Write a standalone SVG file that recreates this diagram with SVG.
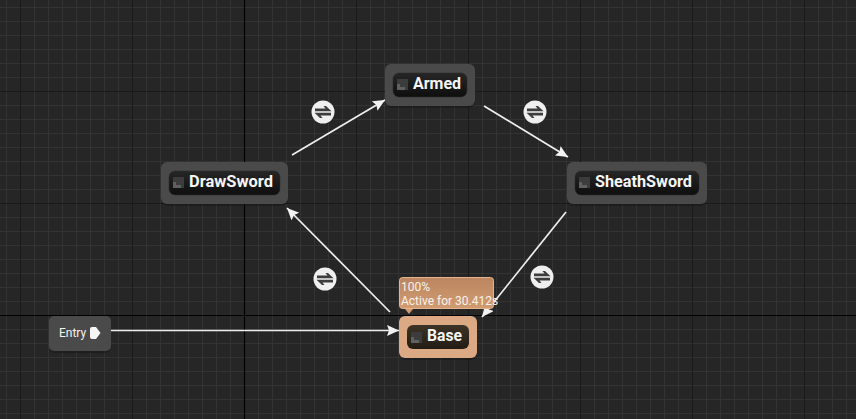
<svg xmlns="http://www.w3.org/2000/svg" width="856" height="419" viewBox="0 0 856 419">
<defs>
<pattern id="minor" width="14" height="14" patternUnits="userSpaceOnUse" x="6" y="7"><path d="M0.5 0V14M0 0.5H14" stroke="#333333" stroke-width="1" fill="none"/></pattern>
<pattern id="major" width="112" height="112" patternUnits="userSpaceOnUse" x="20" y="91"><path d="M0.5 0V112M0 0.5H112" stroke="#1a1a1a" stroke-width="1" fill="none"/></pattern>
<linearGradient id="pill" x1="0" y1="0" x2="0" y2="1"><stop offset="0" stop-color="#262626"/><stop offset="1" stop-color="#0e0e0e"/></linearGradient>
<linearGradient id="pillB" x1="0" y1="0" x2="0" y2="1"><stop offset="0" stop-color="#3d3427"/><stop offset="1" stop-color="#221c14"/></linearGradient>
<linearGradient id="tip" x1="0" y1="0" x2="0" y2="1"><stop offset="0" stop-color="#bb8660"/><stop offset="1" stop-color="#d19b72"/></linearGradient>
<marker id="ah" markerUnits="userSpaceOnUse" markerWidth="14" markerHeight="12" refX="12" refY="5.500" orient="auto"><path d="M0 0L12 5.500L0 11L2 5.500Z" fill="#f2f2f2"/></marker>
<g id="icon"><circle r="11.500" fill="#efefef"/><path d="M-8 -0.800H8.500L3 -6H0.500L2.500 -3.500H-8Z" fill="#3d3d3d"/><path d="M8 0.800H-8.500L-3 6H-0.500L-2.500 3.500H8Z" fill="#3d3d3d"/></g>
<g id="stateIcon"><rect x="0" y="0" width="11" height="11" fill="#3c3c3c"/><path d="M0 5H3V8H8V11H0Z" fill="#606060"/></g>
</defs>
<style>
.node{fill:#4a4a4a}
.shadow{fill:#141414;opacity:.45}
.title{font-family:Roboto,"Liberation Sans",sans-serif;font-weight:700;font-size:17px;fill:#f5f5f5}
.edge{stroke:#efefef;stroke-width:1.700;fill:none;marker-end:url(#ah)}
.small{font-family:Roboto,"Liberation Sans",sans-serif;font-size:12px;fill:#f7f2ec}
</style>
<rect width="856" height="419" fill="#262626"/>
<rect width="856" height="419" fill="url(#minor)"/>
<rect width="856" height="419" fill="url(#major)"/>
<path d="M244.500 0V419M0 315.500H856" stroke="#000" stroke-width="1.200" fill="none"/>
<g id="connectors">
<path class="edge" d="M292 155L385 100"/>
<path class="edge" d="M484 106L568 157"/>
<path class="edge" d="M566 212L482 317"/>
<path class="edge" d="M390 312L287 208"/>
<path class="edge" d="M111 330.500H399"/>
</g>
<g id="transition-icons">
<use href="#icon" x="323" y="112"/>
<use href="#icon" x="535" y="112"/>
<use href="#icon" x="542" y="277"/>
<use href="#icon" x="325" y="279"/>
</g>
<g id="node-armed">
<rect class="shadow" x="385" y="66" width="90" height="42" rx="7"/>
<rect class="node" x="385" y="64" width="90" height="42" rx="6"/>
<rect x="393" y="73" width="74" height="24" rx="6" fill="url(#pill)" stroke="#2c2c2c" stroke-width=".6"/>
<use href="#stateIcon" x="397" y="79"/>
<text class="title" x="413" y="89" textLength="48" lengthAdjust="spacingAndGlyphs">Armed</text>
</g>
<g id="node-drawsword">
<rect class="shadow" x="161" y="164" width="127" height="42" rx="7"/>
<rect class="node" x="161" y="162" width="127" height="42" rx="6"/>
<rect x="169" y="171" width="111" height="24" rx="6" fill="url(#pill)" stroke="#2c2c2c" stroke-width=".6"/>
<use href="#stateIcon" x="173" y="177"/>
<text class="title" x="189" y="187" textLength="84" lengthAdjust="spacingAndGlyphs">DrawSword</text>
</g>
<g id="node-sheathsword">
<rect class="shadow" x="567" y="164" width="140" height="42" rx="7"/>
<rect class="node" x="567" y="162" width="140" height="42" rx="6"/>
<rect x="575" y="171" width="124" height="24" rx="6" fill="url(#pill)" stroke="#2c2c2c" stroke-width=".6"/>
<use href="#stateIcon" x="579" y="177"/>
<text class="title" x="595" y="187" textLength="97" lengthAdjust="spacingAndGlyphs">SheathSword</text>
</g>
<g id="node-entry">
<rect class="shadow" x="49" y="318" width="62" height="35" rx="6"/>
<rect class="node" x="49" y="316" width="62" height="35" rx="5"/>
<text class="small" x="59" y="337">Entry</text>
<path d="M92 327H96L100.500 333L96 339H92Q90 339 90 337V329Q90 327 92 327Z" fill="#f5f5f5"/>
</g>
<g id="node-base">
<rect class="shadow" x="399" y="318" width="78" height="42" rx="7"/>
<rect x="399" y="316" width="78" height="42" rx="6" fill="#dbaa84"/>
<rect x="407" y="325" width="62" height="24" rx="6" fill="url(#pillB)"/>
<use href="#stateIcon" x="411" y="332"/>
<text class="title" x="427" y="341" textLength="35" lengthAdjust="spacingAndGlyphs">Base</text>
<g id="tooltip">
<rect x="399.500" y="277.500" width="94" height="31" rx="3" fill="url(#tip)" stroke="#e6b48c"/>
<path d="M405 309H413L409 314Z" fill="#d09a70"/>
<text class="small" x="401" y="291">100%</text>
<text class="small" x="401" y="305">Active for 30.412s</text>
</g>
</g>
</svg>
